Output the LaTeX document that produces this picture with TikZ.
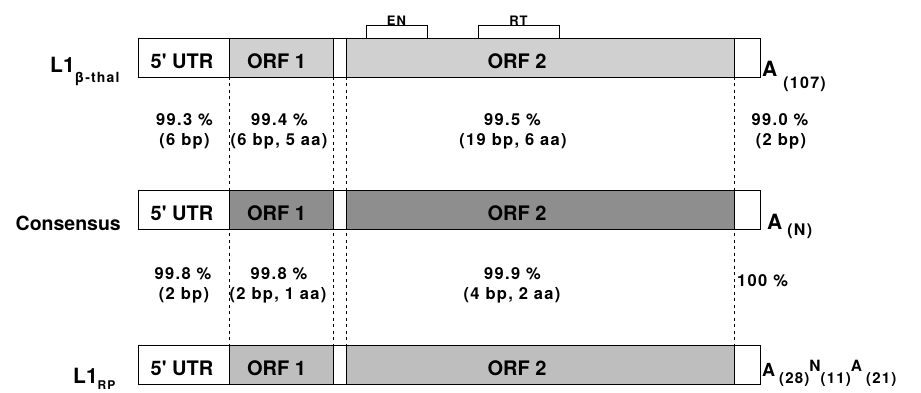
\documentclass[tikz,border=0pt]{standalone}
\usepackage{fontspec}
\setmainfont{TeX Gyre Heros}
\newfontfamily\pct{TeX Gyre Heros}[LetterSpace=8]
\definecolor{rowA}{HTML}{D0D0D0}
\definecolor{rowB}{HTML}{8E8E8E}
\definecolor{rowC}{HTML}{BEBEBE}
\newcommand{\tsub}[1]{\raisebox{-7pt}{\pct\fontsize{15}{15}\selectfont #1}}
\newcommand{\tsup}[1]{\raisebox{5pt}{\fontsize{15.5}{15.5}\selectfont #1}}
\begin{document}
\begin{tikzpicture}[x=1pt,y=-1pt,
  seg/.style={draw=black, line width=0.9pt, inner sep=0pt, outer sep=0pt, minimum height=39pt},
  lab/.style={font=\fontsize{20}{20}\selectfont\bfseries, anchor=base, inner sep=0pt},
  pcts/.style={font=\pct\fontsize{16.5}{17}\selectfont\bfseries, anchor=base, inner sep=0pt},
  rowlab/.style={font=\fontsize{21}{21}\selectfont\bfseries, anchor=base west, inner sep=0pt},
  tail/.style={anchor=base west, inner sep=0pt, font=\bfseries},
  dline/.style={line width=0.7pt, dash pattern=on 3pt off 3.5pt},
  brk/.style={line width=0.7pt},
  dom/.style={font=\pct\fontsize{13}{13}\selectfont\bfseries, anchor=base, inner sep=0pt}]
\useasboundingbox (0,0) rectangle (921,393);
% dashed guide lines (drawn first)
\draw[dline] (229,77) -- (229,345);
\draw[dline] (333,77) -- (333,345);
\draw[dline] (346,77) -- (346,345);
\draw[dline] (734,77) -- (734,345);
% boxes
\foreach \r/\c/\f in {1/57.5/rowA, 2/209.5/rowB, 3/364.5/rowC}{
  \node[seg, fill=white, minimum width=91pt]  (u\r) at (183.5,\c) {};
  \node[seg, fill=\f,    minimum width=104pt] (o\r) at (281,\c) {};
  \node[seg, fill=white, minimum width=13pt]  (s\r) at (339.5,\c) {};
  \node[seg, fill=\f,    minimum width=388pt] (t\r) at (540,\c) {};
  \node[seg, fill=white, minimum width=26pt]  (e\r) at (747,\c) {};
  \node[lab] (lu\r) at (182,\c+11) {5\textquotesingle{} UTR};
  \node[lab] (lo\r) at (276.5,\c+11) {ORF 1};
  \node[lab] (lt\r) at (517,\c+11) {ORF 2};
}
% domain brackets
\node[dom] (en) at (396.5,25.5) {EN};
\node[dom] (rt) at (518.5,25.5) {RT};
\draw[brk] (366,38) |- (en.base) -| (427,38);
\draw[brk] (478,38) |- (rt.base) -| (559,38);
% row labels
\node[rowlab] (n1) at (50,73) {L1\raisebox{-10pt}{\pct\fontsize{14}{14}\selectfont β-thal}};
\node[font=\fontsize{19.5}{20}\selectfont\bfseries, anchor=base east, inner sep=0pt] (n2) at (121,230) {Consensus};
\node[rowlab] (n3) at (73,383) {L1\raisebox{-6pt}{\pct\fontsize{12}{12}\selectfont RP}};
% percentages between rows 1 and 2
\node[pcts] (p11) at (184.5,126) {99.3 \%};
\node[pcts] (q11) at (184.5,146) {(6 bp)};
\node[pcts] (p12) at (279.5,126) {99.4 \%};
\node[pcts] (q12) at (279,146) {(6 bp, 5 aa)};
\node[pcts] (p13) at (512.5,126) {99.5 \%};
\node[pcts] (q13) at (513,146) {(19 bp, 6 aa)};
\node[pcts] (p14) at (780,126) {99.0 \%};
\node[pcts] (q14) at (781,146) {(2 bp)};
% percentages between rows 2 and 3
\node[pcts] (p21) at (183,279) {99.8 \%};
\node[pcts] (q21) at (184,299) {(2 bp)};
\node[pcts] (p22) at (279,279) {99.8 \%};
\node[pcts] (q22) at (278,299) {(2 bp, 1 aa)};
\node[pcts] (p23) at (512.5,279) {99.9 \%};
\node[pcts] (q23) at (512,299) {(4 bp, 2 aa)};
\node[pcts, anchor=base west] (p24) at (737,286) {100 \%};
% poly-A tails
\node[tail] (a1) at (762,77) {\fontsize{21}{21}\selectfont A\hspace{6pt}\raisebox{-12pt}{\pct\fontsize{16}{16}\selectfont (107)}};
\node[tail] (a2) at (767,229) {\fontsize{21}{21}\selectfont A\hspace{5pt}\raisebox{-6pt}{\pct\fontsize{16}{16}\selectfont (N)}};
\node[tail] (a3) at (762,376) {\fontsize{18}{18}\selectfont A\hspace{4pt}\tsub{(28)}\tsup{N}\tsub{(11)}\tsup{A}\hspace{4pt}\tsub{(21)}};
\end{tikzpicture}
\end{document}
